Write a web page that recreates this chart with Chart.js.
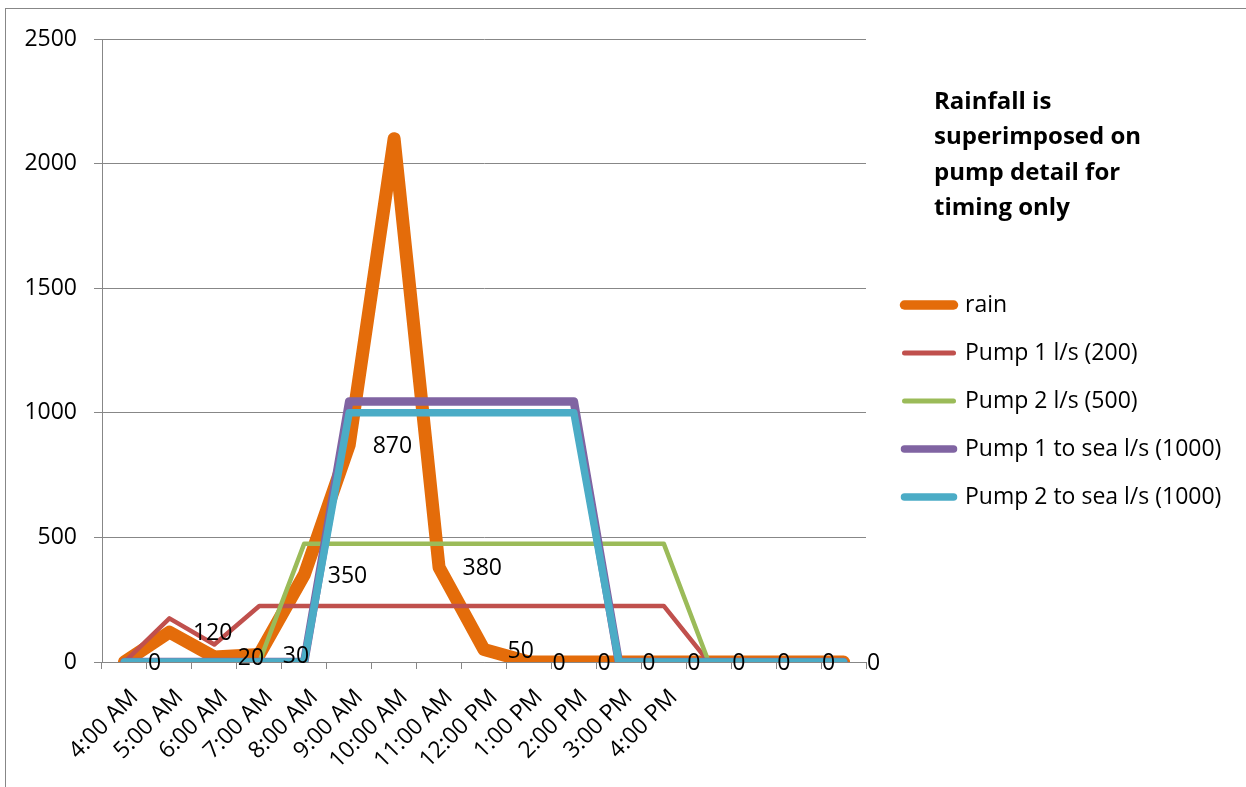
<!DOCTYPE html>
<html><head><meta charset="utf-8">
<script src="https://cdn.jsdelivr.net/npm/chart.js"></script>
<style>
html,body{margin:0;padding:0;background:#fff;overflow:hidden;width:1246px;height:787px;}
#wrap{position:relative;width:1246px;height:787px;overflow:hidden;background:#fff;}
canvas{position:absolute;left:0;top:0;}
#frame{position:absolute;left:5px;top:8px;width:1400px;height:900px;border:1px solid #878787;box-sizing:border-box;pointer-events:none;}
#note{position:absolute;left:934px;top:81.9px;font:bold 24px 'Open Sans',sans-serif;line-height:35.5px;color:#000;white-space:nowrap;}
</style></head><body>
<div id="wrap">
<canvas id="c" width="1246" height="787"></canvas>
<div id="frame"></div>
<div id="note">Rainfall is<br>superimposed on<br>pump detail for<br>timing only</div>
</div>
<script>
// ---- data ----
const categories = ['4:00 AM','5:00 AM','6:00 AM','7:00 AM','8:00 AM','9:00 AM','10:00 AM','11:00 AM','12:00 PM','1:00 PM','2:00 PM','3:00 PM','4:00 PM','','','',''];
const seriesNames = ['rain','Pump 1 l/s (200)','Pump 2 l/s (500)','Pump 1 to sea l/s (1000)','Pump 2 to sea l/s (1000)'];
const rain     = [0,120,20,30,350,870,2100,380,50,0,0,0,0,0,0,0,0];
const pump1    = [0,175,70,225,225,225,225,225,225,225,225,225,225,0,0,0,0];
const pump2    = [0,0,0,0,475,475,475,475,475,475,475,475,475,0,0,0,0];
const pump1Sea = [0,0,0,0,0,1045,1045,1045,1045,1045,1045,0,0,0,0,0,0];
const pump2Sea = [0,0,0,0,0,1000,1000,1000,1000,1000,1000,0,0,0,0,0,0];
const yTicks = [0,500,1000,1500,2000,2500];
const rainLabelHidden = [6];

// ---- styling ----
const W = 1246, H = 787;
const FAMILY = "'Open Sans', sans-serif";
const FS = 23;
const GRID = '#878787';
const colors = ['#E46C0A','#C0504D','#9BBB59','#8064A2','#4BACC6'];
const lineWidths = [13, 4.5, 4.5, 8.5, 7.5];
const legendLineWidths = [9.5, 5, 5, 7.5, 7.5];
const AREA = {left: 102, top: 39, right: 866, bottom: 662};
const LEG_PAD = 25, LEG_BOX = 49, LEG_ITEM_X = 904.5;

Chart.defaults.font.family = FAMILY;
Chart.defaults.font.size = FS;
Chart.defaults.color = '#000';

const mctx = document.createElement('canvas').getContext('2d');
mctx.font = 'normal ' + FS + 'px ' + FAMILY;
const maxTextW = Math.max(...seriesNames.map(n => mctx.measureText(n).width));
const legendW = LEG_PAD + LEG_BOX + FS / 2 + maxTextW + 10;
const legendLeft = LEG_ITEM_X - LEG_PAD;
const padRight = W - legendLeft - legendW;
const firstItemCenter = 305;
const titleSpacer = (firstItemCenter - FS / 2) - AREA.top - LEG_PAD;

const seriesData = [rain, pump1, pump2, pump1Sea, pump2Sea];
const datasets = seriesData.map((d, i) => ({
  label: seriesNames[i],
  data: d,
  borderColor: colors[i],
  backgroundColor: colors[i],
  borderWidth: lineWidths[i],
  borderCapStyle: 'round',
  borderJoinStyle: 'round',
  pointRadius: 0,
  pointHoverRadius: 0,
  tension: 0,
  fill: false,
  order: seriesData.length - i
}));

const rainLabels = {
  id: 'rainLabels',
  afterDatasetsDraw(chart) {
    const meta = chart.getDatasetMeta(0);
    const ctx = chart.ctx;
    ctx.save();
    ctx.font = 'normal ' + FS + 'px ' + FAMILY;
    ctx.fillStyle = '#000';
    ctx.textAlign = 'left';
    ctx.textBaseline = 'middle';
    meta.data.forEach((pt, i) => {
      if (rainLabelHidden.includes(i)) return;
      ctx.fillText(String(rain[i]), pt.x + 23.5, pt.y + 1.5);
    });
    ctx.restore();
  }
};

new Chart(document.getElementById('c'), {
  type: 'line',
  data: { labels: categories, datasets },
  plugins: [rainLabels],
  options: {
    responsive: false,
    animation: false,
    devicePixelRatio: 1,
    events: [],
    layout: { padding: { left: 0, top: AREA.top, right: padRight, bottom: 0 } },
    plugins: {
      tooltip: { enabled: false },
      title: { display: false },
      legend: {
        position: 'right',
        align: 'start',
        maxWidth: 2000,
        title: { display: true, text: '', font: { size: 10, lineHeight: 1 }, padding: { top: 0, bottom: titleSpacer - 10 } },
        labels: {
          usePointStyle: true,
          pointStyle: 'line',
          pointStyleWidth: LEG_BOX,
          padding: LEG_PAD,
          color: '#000',
          font: { size: FS },
          sort: (a, b) => a.datasetIndex - b.datasetIndex,
          generateLabels(chart) {
            const items = Chart.defaults.plugins.legend.labels.generateLabels(chart);
            items.forEach(it => {
              it.lineWidth = legendLineWidths[it.datasetIndex];
              it.pointStyle = 'line';
              it.lineCap = 'round';
              it.strokeStyle = colors[it.datasetIndex];
            });
            return items;
          }
        }
      }
    },
    scales: {
      x: {
        type: 'category',
        offset: true,
        grid: { display: true, offset: true, drawOnChartArea: false, drawTicks: true, tickLength: 7, color: GRID, lineWidth: 1 },
        border: { display: true, color: GRID, width: 1 },
        ticks: { autoSkip: false, minRotation: 45, maxRotation: 45, padding: 15, labelOffset: 10, color: '#000', font: { size: FS } },
        afterFit(s) { s.height = H - AREA.bottom; s.paddingLeft = 0; s.paddingRight = 0; }
      },
      y: {
        type: 'linear',
        position: 'left',
        min: yTicks[0],
        max: yTicks[yTicks.length - 1],
        afterBuildTicks(s) { s.ticks = yTicks.map(v => ({ value: v })); },
        grid: { color: GRID, lineWidth: 1, tickLength: 8, drawTicks: true },
        border: { display: true, color: GRID, width: 1 },
        ticks: { padding: 17, color: '#000', font: { size: FS }, callback: v => String(v) },
        afterFit(s) { s.width = AREA.left; }
      },
      yR: {
        type: 'linear',
        position: 'right',
        display: true,
        grid: { display: false, drawTicks: false },
        border: { display: false },
        ticks: { display: false },
        afterFit(s) { s.width = legendLeft - AREA.right; }
      }
    }
  }
});
</script>
</body></html>
